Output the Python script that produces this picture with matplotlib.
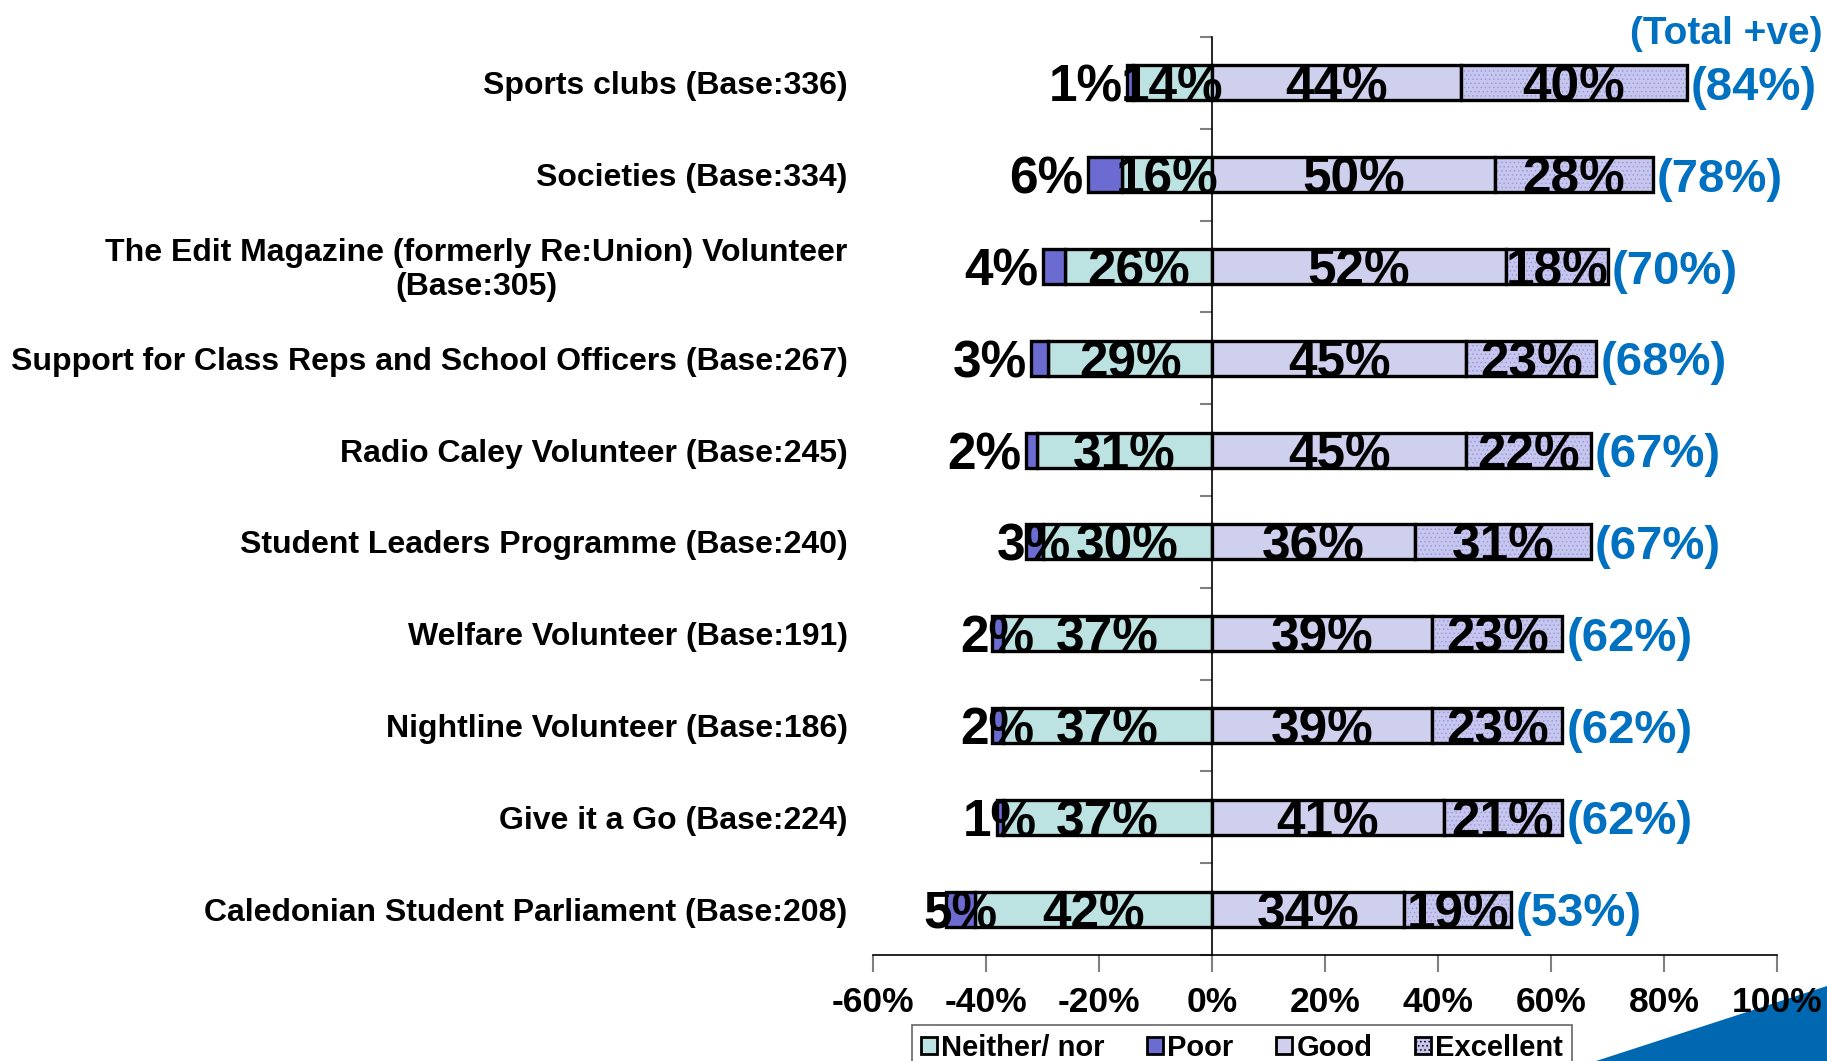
import matplotlib
matplotlib.use('Agg')
import numpy as np
import matplotlib.pyplot as plt
import matplotlib.transforms as mtransforms
from matplotlib import font_manager
from matplotlib.patches import Patch, Polygon

categories = [
    "Sports clubs (Base:336)",
    "Societies (Base:334)",
    "The Edit Magazine (formerly Re:Union) Volunteer\n(Base:305)",
    "Support for Class Reps and School Officers (Base:267)",
    "Radio Caley Volunteer (Base:245)",
    "Student Leaders Programme (Base:240)",
    "Welfare Volunteer (Base:191)",
    "Nightline Volunteer (Base:186)",
    "Give it a Go (Base:224)",
    "Caledonian Student Parliament (Base:208)",
]
poor = [1, 6, 4, 3, 2, 3, 2, 2, 1, 5]
neither = [14, 16, 26, 29, 31, 30, 37, 37, 37, 42]
good = [44, 50, 52, 45, 45, 36, 39, 39, 41, 34]
excellent = [40, 28, 18, 23, 22, 31, 23, 23, 21, 19]
total_pos = [84, 78, 70, 68, 67, 67, 62, 62, 62, 53]
xticks = [-60, -40, -20, 0, 20, 40, 60, 80, 100]
xtick_labels = ['-60%', '-40%', '-20%', '0%', '20%', '40%', '60%', '80%', '100%']
legend_labels = ['Neither/ nor', 'Poor', 'Good', 'Excellent']
# style: where the "Poor" label sits
poor_label_mode = ['outside'] * 5 + ['center'] * 5

names = {f.name for f in font_manager.fontManager.ttflist}
NARROW = 'Liberation Sans Narrow' if 'Liberation Sans Narrow' in names else 'Liberation Sans'
REG = 'Liberation Sans'

C_NEITHER = '#BCE2E2'
C_POOR = '#6B6BD2'
C_GOOD = '#CFCFEE'
C_EXC = '#C6C6EE'
C_EXC_DOT = '#9C9CDC'
C_BLUE = '#0070C0'

plt.rcParams['hatch.linewidth'] = 0.6

W, H = 1827, 1061
fig = plt.figure(figsize=(W / 100, H / 100), dpi=100)
ax = fig.add_axes([873 / W, 1 - 955 / H, 904 / W, (955 - 37) / H])

y = np.arange(len(categories))
neither_a = np.array(neither)
poor_a = np.array(poor)
good_a = np.array(good)
exc_a = np.array(excellent)

bh = 0.38
lw = 2.4
ax.barh(y, -neither_a, left=0, height=bh, color=C_NEITHER, edgecolor='black', linewidth=lw, zorder=2)
ax.barh(y, -poor_a, left=-neither_a, height=bh, color=C_POOR, edgecolor='black', linewidth=lw, zorder=2)
ax.barh(y, good_a, left=0, height=bh, color=C_GOOD, edgecolor='black', linewidth=lw, zorder=2)
ax.barh(y, exc_a, left=good_a, height=bh, color=C_EXC, edgecolor=C_EXC_DOT, hatch='....', linewidth=0, zorder=2)
ax.barh(y, exc_a, left=good_a, height=bh, fill=False, edgecolor='black', linewidth=lw, zorder=3)

ax.set_xlim(-60, 100)
ax.set_ylim(len(categories) - 0.5, -0.5)

for s in ['top', 'right']:
    ax.spines[s].set_visible(False)
ax.spines['left'].set_position(('data', 0))
ax.spines['left'].set_linewidth(1.2)
ax.spines['bottom'].set_linewidth(1.2)
ax.spines['left'].set_zorder(4)

ax.set_yticks(np.arange(-0.5, len(categories), 1.0))
ax.set_yticklabels([])
ax.tick_params(axis='y', direction='out', length=9, width=1.5, color='#808080')
ax.set_xticks(xticks)
ax.set_xticklabels(xtick_labels, fontfamily=NARROW, fontweight='bold', fontsize=25.5)
ax.tick_params(axis='x', direction='out', length=12, width=1.5, color='#808080', pad=10)

ytr = ax.get_yaxis_transform() + mtransforms.ScaledTranslation(0, -3.5 / 100, fig.dpi_scale_trans)
for i, c in enumerate(categories):
    ax.text(-0.028, i, c, transform=ytr, ha='right', va='center', multialignment='center',
            fontfamily=REG, fontweight='bold', fontsize=23)

lab_kw = dict(fontfamily=NARROW, fontweight='bold', fontsize=37, va='center_baseline', zorder=5)
for i in range(len(categories)):
    ax.text(-neither[i] / 2, i, f'{neither[i]}%', ha='center', **lab_kw)
    ax.text(good[i] / 2, i, f'{good[i]}%', ha='center', **lab_kw)
    ax.text(good[i] + excellent[i] / 2, i, f'{excellent[i]}%', ha='center', **lab_kw)
    if poor_label_mode[i] == 'outside':
        ax.text(-(neither[i] + poor[i]) - 0.8, i, f'{poor[i]}%', ha='right', **lab_kw)
    else:
        ax.text(-(neither[i] + poor[i] / 2), i, f'{poor[i]}%', ha='center', **lab_kw)
    ax.text(good[i] + excellent[i] + 0.7, i, f'({total_pos[i]}%)', ha='left', color=C_BLUE,
            fontfamily=NARROW, fontweight='bold', fontsize=34, va='center_baseline', zorder=5)

fig.text(1823 / W, 1 - 34 / H, '(Total +ve)', ha='right', va='center', color=C_BLUE,
         fontfamily=NARROW, fontweight='bold', fontsize=28)

handles = [
    Patch(facecolor=C_NEITHER, edgecolor='black', linewidth=2),
    Patch(facecolor=C_POOR, edgecolor='black', linewidth=2),
    Patch(facecolor=C_GOOD, edgecolor='black', linewidth=2),
    Patch(facecolor=C_EXC, edgecolor='black', linewidth=2, hatch='....'),
]
leg = fig.legend(handles, legend_labels, loc='upper left', bbox_to_anchor=(912 / W, 1 - 1025 / H),
                 bbox_transform=fig.transFigure, ncol=4, frameon=True, fancybox=False,
                 borderaxespad=0, handlelength=0.55, handleheight=0.55, handletextpad=0.15,
                 columnspacing=1.45, borderpad=0.3, prop=dict(family=NARROW, weight='bold', size=21))
leg.get_frame().set_edgecolor('#404040')
leg.get_frame().set_linewidth(1.2)

tri = Polygon([[1596 / W, 0], [1, 1 - 986 / H], [1, 0]], closed=True, transform=fig.transFigure,
              facecolor='#0068B0', edgecolor='none', zorder=-1)
fig.patches.append(tri)

fig.savefig('out.png', dpi=100)
